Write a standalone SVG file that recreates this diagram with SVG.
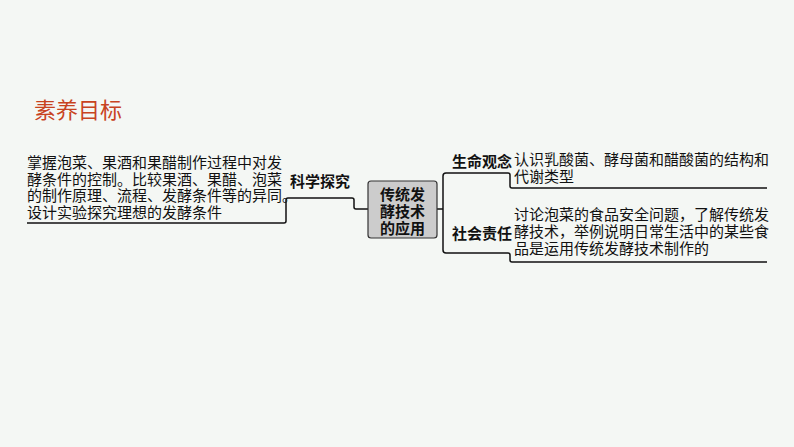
<svg xmlns="http://www.w3.org/2000/svg" width="794" height="447" viewBox="0 0 794 447">
<style>
.t{font-family:"Liberation Sans","Noto Sans CJK SC",sans-serif;font-size:15px;fill:#111}
.b{font-weight:bold}
.l{fill:none;stroke:#111;stroke-width:1.5}
</style>
<rect width="794" height="447" fill="#f4f7f4"/>
<text x="34" y="118" style="font-family:'Noto Sans CJK SC',sans-serif;font-size:22px;fill:#c8431f">素养目标</text>
<g id="connectors">
<path class="l" d="M27 223 H284 Q286 223 286 221 V200 Q286 198 288 198 H352 Q354 198 354 200 V207 Q354 209 356 209 H368"/>
<path class="l" d="M437 209 H443"/>
<path class="l" d="M510 186 Q510 188 512 188 H767 M510 186 V175 Q510 173 508 173 H446 Q443 173 443 176 V250 Q443 253 446 253 H508 Q510 253 510 255 V260 Q510 262 512 262 H767"/>
</g>
<g id="left"><text class="t"><tspan x="27" y="168">掌握泡菜、果酒和果醋制作过程中对发</tspan><tspan x="27" y="185">酵条件的控制。比较果酒、果醋、泡菜</tspan><tspan x="27" y="201">的制作原理、流程、发酵条件等的异同。</tspan><tspan x="27" y="218">设计实验探究理想的发酵条件</tspan></text></g>
<g id="kxtj"><text class="t b" x="290" y="187" font-size="14">科学探究</text></g>
<g id="center"><rect x="368" y="181" width="69" height="57" rx="3" fill="#cccccc" stroke="#333" stroke-width="1.2"/>
<text class="t b" text-anchor="middle"><tspan x="402.5" y="200">传统发</tspan><tspan x="402.5" y="217">酵技术</tspan><tspan x="402.5" y="234">的应用</tspan></text></g>
<g id="smgn"><text class="t b" x="452" y="167" font-size="14">生命观念</text>
<text class="t"><tspan x="514" y="165">认识乳酸菌、酵母菌和醋酸菌的结构和</tspan><tspan x="514" y="182">代谢类型</tspan></text></g>
<g id="shzr"><text class="t b" x="452" y="239" font-size="14">社会责任</text>
<text class="t"><tspan x="514" y="220">讨论泡菜的食品安全问题，了解传统发</tspan><tspan x="514" y="237">酵技术，举例说明日常生活中的某些食</tspan><tspan x="514" y="254">品是运用传统发酵技术制作的</tspan></text></g>
</svg>
